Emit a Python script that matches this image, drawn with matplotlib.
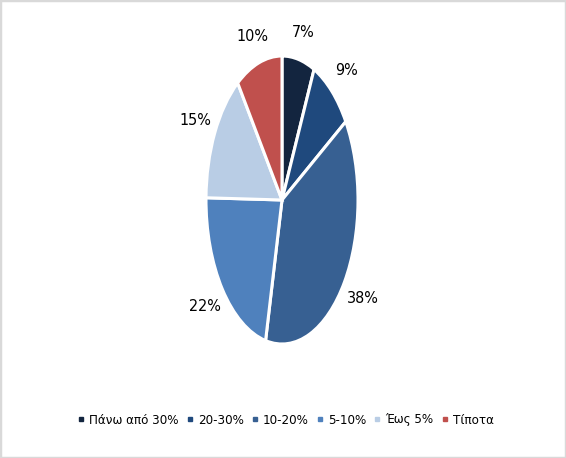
import numpy as np
import matplotlib
matplotlib.use("Agg")
import matplotlib.pyplot as plt
from matplotlib.patches import Rectangle
from matplotlib.lines import Line2D

categories = ["Πάνω από 30%", "20-30%", "10-20%", "5-10%", "Έως 5%", "Τίποτα"]
values = [7, 9, 38, 22, 15, 10]
labels = ["7%", "9%", "38%", "22%", "15%", "10%"]
colors = ["#13253F", "#1F497D", "#376092", "#4F81BD", "#B9CDE5", "#C0504D"]

plt.rcParams['font.family'] = ['DejaVu Sans']
plt.rcParams['font.stretch'] = 'condensed'

fig = plt.figure(figsize=(5.66, 4.58), dpi=100)
fig.patches.append(Rectangle((0, 0), 1, 1, transform=fig.transFigure, fill=False,
                             edgecolor="#D9D9D9", linewidth=2.5))

cx, cy, rw, rh = 282, 200, 76, 144
W, H = 566, 458
ax = fig.add_axes([(cx - rw) / W, 1 - (cy + rh) / H, 2 * rw / W, 2 * rh / H])
wedges, _ = ax.pie(values, colors=colors, startangle=90, counterclock=False,
                   wedgeprops=dict(edgecolor="white", linewidth=2.2))
ax.set_aspect('auto')
ax.set_xlim(-1, 1)
ax.set_ylim(-1, 1)
ax.axis('off')

total = sum(values)
cum = 0
for v, lab in zip(values, labels):
    mid = np.deg2rad(90 - (cum + v / 2) / total * 360)
    cum += v
    x, y = np.cos(mid), np.sin(mid)
    ox, oy = 22 * np.cos(mid), 28 * np.sin(mid)
    ax.annotate(lab, xy=(x, y), xytext=(ox, oy),
                textcoords='offset pixels', ha='center', va='center', fontsize=11.5,
                color="#000000", annotation_clip=False)

handles = [Line2D([], [], marker='s', linestyle='none', markersize=3.5,
                  markerfacecolor=c, markeredgecolor=c) for c in colors]
fig.legend(handles, categories, loc='center', bbox_to_anchor=(0.505, 1 - 420 / H),
           ncol=6, frameon=False, fontsize=9.5, handlelength=0.5, handletextpad=0.35,
           columnspacing=0.6)

fig.savefig("out.png", dpi=100)
